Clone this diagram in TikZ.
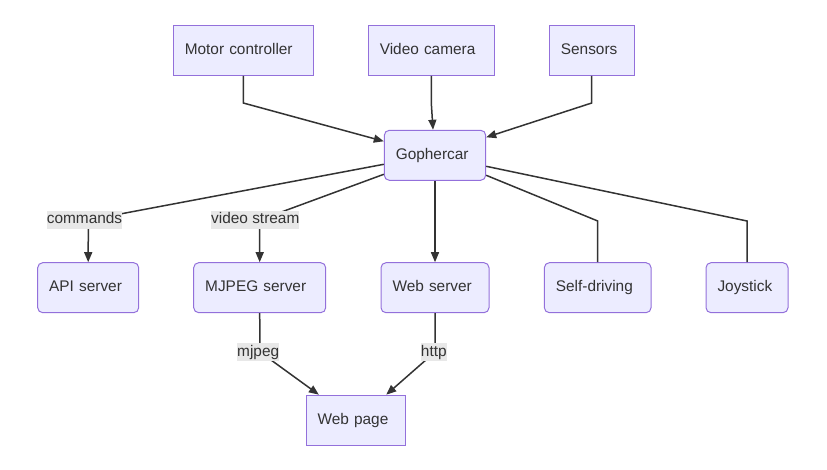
\documentclass[tikz,border=0pt]{standalone}
\usepackage{fontspec}
\setmainfont{Liberation Sans}
\usetikzlibrary{arrows.meta}
\definecolor{nodefill}{HTML}{ECECFF}
\definecolor{nodeline}{HTML}{9370DB}
\definecolor{ink}{HTML}{333333}
\definecolor{lblbg}{HTML}{E8E8E8}
\begin{document}
\begin{tikzpicture}[x=1pt,y=-1pt,
  txt/.style={font=\fontsize{15.4}{18}\selectfont, text=ink},
  box/.style={txt, draw=nodeline, fill=nodefill, line width=1pt, minimum height=50pt, inner xsep=11.5pt, inner ysep=0pt, align=left, text height=11.2pt, text depth=3.2pt},
  rbox/.style={box, rounded corners=5pt},
  elabel/.style={txt, fill=lblbg, inner xsep=0pt, inner ysep=1pt, text height=11.7pt, text depth=3.7pt},
  link/.style={draw=ink, line width=1.5pt},
  arr/.style={link, -{Triangle[length=10pt,width=8pt]}},
]
\useasboundingbox (0,0) rectangle (827,470);
% nodes
\node[box, text width=117pt] (mc) at (243.3,50.3) {Motor controller};
\node[box, text width=103pt] (vc) at (431.3,50.3) {Video camera};
\node[box, text width=61.7pt] (sn) at (591.7,50.3) {Sensors};
\node[rbox, text width=78.4pt] (gc) at (435,155.3) {Gophercar};
\node[rbox, text width=78pt] (api) at (88.2,287.7) {API server};
\node[rbox, text width=109pt] (mj) at (259.7,287.7) {MJPEG server};
\node[rbox, text width=85pt] (ws) at (435,287.7) {Web server};
\node[rbox, text width=83.7pt] (sd) at (597.7,287.7) {Self-driving};
\node[rbox, text width=59pt] (js) at (747,287.7) {Joystick};
\node[box, text width=76.3pt] (wp) at (355.7,420.2) {Web page};
% bend points
\coordinate (mcb) at (243.3,103);
\coordinate (vcb) at (431.3,103);
\coordinate (snb) at (591.7,103);
\coordinate (lc) at (88.3,220);
\coordinate (lv) at (259.7,220);
\coordinate (sdb) at (597.7,221);
\coordinate (jsb) at (747,221);
\coordinate (lm) at (260,352);
\coordinate (lh) at (435,352);
% connectors
\draw[arr] (mc.south) -- (mcb) -- ([yshift=14pt]gc.west);
\draw[arr] (vc.south) -- (vcb) -- ([xshift=-2pt]gc.north);
\draw[arr] (sn.south) -- (snb) -- ([yshift=18pt]gc.east);
\draw[arr] ([yshift=-9pt]gc.west) -- (lc) -- (api.north);
\draw[arr] ([yshift=-19pt]gc.west) -- (lv) -- (mj.north);
\draw[arr] (gc.south) -- (ws.north);
\draw[link] ([yshift=-20pt]gc.east) -- (sdb) -- (sd.north);
\draw[link] ([yshift=-11pt]gc.east) -- (jsb) -- (js.north);
\draw[arr] (mj.south) -- (lm) -- ([xshift=13.3pt]wp.north west);
\draw[arr] (ws.south) -- (lh) -- ([xshift=-19.6pt]wp.north east);
% edge labels
\node[elabel] (tc) at (84.5,220) {commands};
\node[elabel] (tv) at (255.3,220) {video stream};
\node[elabel] (tm) at (258.2,352) {mjpeg};
\node[elabel] (th) at (433.8,352) {http};
\end{tikzpicture}
\end{document}
